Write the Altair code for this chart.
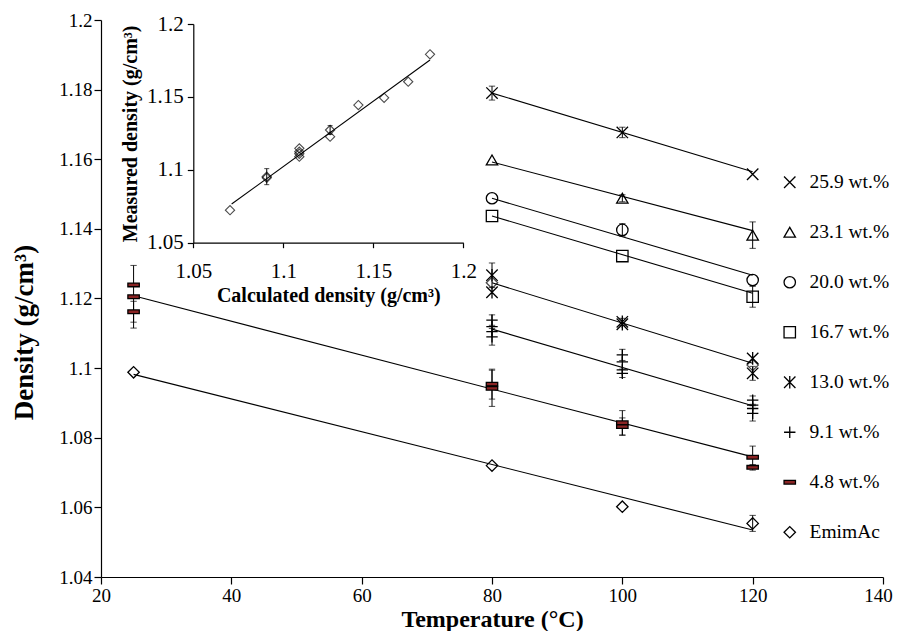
import altair as alt
import pandas as pd

FONT = "Liberation Serif"

# ---------------- main chart data ----------------
series_order = ["25.9 wt.%", "23.1 wt.%", "20.0 wt.%", "16.7 wt.%",
                "13.0 wt.%", "9.1 wt.%", "4.8 wt.%", "EmimAc"]
shape_range = [
    "M-1,-1L1,1M-1,1L1,-1",                 # x
    "triangle-up",
    "circle",
    "square",
    "M-1,-1L1,1M-1,1L1,-1M0,-1.1L0,1.1",    # star
    "M-1,0L1,0M0,-1L0,1",                   # plus
    "M-1,-0.32L1,-0.32L1,0.32L-1,0.32Z",    # dash
    "diamond",
]
fill_range = ["transparent"] * 6 + ["#8a2424", "transparent"]
stroke_range = ["black"] * 8

pt_series = (["25.9 wt.%"] * 3 + ["23.1 wt.%"] * 3 + ["20.0 wt.%"] * 3 +
             ["16.7 wt.%"] * 3 + ["13.0 wt.%"] * 6 + ["9.1 wt.%"] * 12 +
             ["4.8 wt.%"] * 9 + ["EmimAc"] * 4)
pt_temp = [80, 100, 120,
           80, 100, 120,
           80, 100, 120,
           80, 100, 120,
           80, 80, 100, 100, 120, 120,
           80, 80, 80, 80, 100, 100, 100, 100, 120, 120, 120, 120,
           25, 25, 25, 80, 80, 100, 100, 120, 120,
           25, 80, 100, 120]
pt_dens = [1.1790, 1.1677, 1.1557,
           1.1598, 1.1488, 1.1382,
           1.1488, 1.1397, 1.1253,
           1.1437, 1.1322, 1.1205,
           1.1267, 1.1218, 1.1133, 1.1126, 1.1028, 1.0985,
           1.1138, 1.1119, 1.1105, 1.1090, 1.1038, 1.1018, 1.0995, 1.0985,
           1.0908, 1.0894, 1.0884, 1.0870,
           1.1239, 1.1205, 1.1162, 1.0954, 1.0942, 1.0843, 1.0832, 1.0744, 1.0715,
           1.0988, 1.0720, 1.0602, 1.0554]
pt_err = [0.0020, 0.0015, 0.0,
          0.0, 0.0010, 0.0038,
          0.0, 0.0018, 0.0,
          0.0, 0.0, 0.0030,
          0.0035, 0.0, 0.0010, 0.0, 0.0, 0.0020,
          0.0015, 0.0, 0.0, 0.0024, 0.0016, 0.0, 0.0, 0.0012,
          0.0012, 0.0, 0.0, 0.0022,
          0.0, 0.0090, 0.0030, 0.0043, 0.0052, 0.0035, 0.0025, 0.0032, 0.0008,
          0.0, 0.0, 0.0, 0.0023]

# mean markers (diamonds) of the 13.0 wt.% replicates
mean_temp = [80, 120]
mean_dens = [1.1245, 1.1009]

# fitted lines
fit_series = series_order
fit_t0 = [80, 80, 80, 80, 80, 80, 25, 25]
fit_t1 = [120, 120, 120, 120, 120, 120, 120, 120]
fit_d0 = [1.1790, 1.1592, 1.1488, 1.1437, 1.1245, 1.1112, 1.1208, 1.0982]
fit_d1 = [1.1564, 1.1395, 1.1267, 1.1215, 1.1014, 1.0892, 1.0745, 1.0535]

# ---------------- inset data ----------------
in_calc = [1.0704, 1.0908, 1.0908, 1.1089, 1.1089, 1.1089, 1.1089,
           1.1260, 1.1260, 1.1417, 1.1560, 1.1694, 1.1815]
in_meas = [1.0723, 1.0953, 1.0945, 1.1147, 1.1124, 1.1090, 1.1110,
           1.1273, 1.1227, 1.1444, 1.1494, 1.1604, 1.1792]
in_err = [0.0, 0.0055, 0.0, 0.0, 0.0, 0.0, 0.0,
          0.0030, 0.0, 0.0, 0.0, 0.0, 0.0]
in_line_x = [1.0713, 1.1815]
in_line_y = [1.0765, 1.1753]

main_ticks_x = [20, 40, 60, 80, 100, 120, 140]
main_ticks_y = [1.04, 1.06, 1.08, 1.10, 1.12, 1.14, 1.16, 1.18, 1.20]
inset_ticks = [1.05, 1.10, 1.15, 1.20]

# ---------------- frames ----------------
points = pd.DataFrame({"series": pt_series, "temp": pt_temp,
                       "density": pt_dens, "err": pt_err})
means = pd.DataFrame({"temp": mean_temp, "density": mean_dens})
fits = pd.DataFrame({"series": fit_series, "t0": fit_t0, "t1": fit_t1,
                     "d0": fit_d0, "d1": fit_d1})
inset = pd.DataFrame({"calc": in_calc, "meas": in_meas, "err": in_err})
inset_line = pd.DataFrame({"x0": [in_line_x[0]], "x1": [in_line_x[1]],
                           "y0": [in_line_y[0]], "y1": [in_line_y[1]]})

W, H = 782, 557

xscale = alt.Scale(domain=[20, 140], nice=False, zero=False)
yscale = alt.Scale(domain=[1.04, 1.2], nice=False, zero=False)

xaxis = alt.Axis(values=main_ticks_x, title="Temperature (°C)", tickSize=7,
                 labelPadding=2, titlePadding=2, titleFontSize=24,
                 labelOffset={"condition": {"test": "datum.value == 140", "value": -5},
                              "value": 0})
yaxis = alt.Axis(values=main_ticks_y, format=".2~f", title="Density (g/cm³)",
                 tickSize=7, labelPadding=2, titleFontSize=27,
                 titleX=-63, titleY=312)

lines = alt.Chart(fits).mark_rule(color="black", strokeWidth=1.1).encode(
    x=alt.X("t0:Q", scale=xscale, axis=xaxis),
    x2="t1:Q",
    y=alt.Y("d0:Q", scale=yscale, axis=yaxis),
    y2="d1:Q",
)

err_base = alt.Chart(points).transform_filter("datum.err > 0").transform_calculate(
    lo="datum.density - datum.err", hi="datum.density + datum.err")

err_rules = err_base.mark_rule(color="black", strokeWidth=1).encode(
    x=alt.X("temp:Q", scale=xscale),
    y=alt.Y("lo:Q", scale=yscale),
    y2="hi:Q",
)
err_caps = err_base.transform_fold(["lo", "hi"], as_=["k", "v"]).mark_point(
    shape="M-1,0L1,0", size=40, stroke="black", strokeWidth=1, filled=False
).encode(
    x=alt.X("temp:Q", scale=xscale),
    y=alt.Y("v:Q", scale=yscale),
)

leg = alt.Legend(title=None, orient="none", legendX=679, legendY=152.5,
                 labelFont=FONT, labelFontSize=19.5, labelColor="black",
                 symbolStrokeColor="black", symbolStrokeWidth=1.3,
                 symbolSize=130, rowPadding=29, labelOffset=10, padding=0)

pts = alt.Chart(points).mark_point(filled=True, strokeWidth=1.3, size=130,
                                   opacity=1).encode(
    x=alt.X("temp:Q", scale=xscale),
    y=alt.Y("density:Q", scale=yscale),
    shape=alt.Shape("series:N", scale=alt.Scale(domain=series_order, range=shape_range),
                    legend=leg),
    fill=alt.Fill("series:N", scale=alt.Scale(domain=series_order, range=fill_range),
                  legend=leg),
    stroke=alt.Stroke("series:N", scale=alt.Scale(domain=series_order, range=stroke_range),
                      legend=leg),
)

mean_pts = alt.Chart(means).mark_point(shape="diamond", filled=False, stroke="black",
                                       strokeWidth=1.3, size=130).encode(
    x=alt.X("temp:Q", scale=xscale),
    y=alt.Y("density:Q", scale=yscale),
)

main = alt.layer(lines, err_rules, err_caps, pts, mean_pts)

# ---------------- inset ----------------
ix_scale = alt.Scale(domain=[1.05, 1.2], range=[92.3, 362.3], nice=False, zero=False)
iy_scale = alt.Scale(domain=[1.05, 1.2], range=[222.7, 4], nice=False, zero=False)

ix_axis = alt.Axis(orient="bottom", offset=-334.3, values=inset_ticks, format=".2~f",
                   title="Calculated density (g/cm³)", tickSize=5, labelPadding=13,
                   titlePadding=4, titleFontSize=20, labelFontSize=21)
iy_axis = alt.Axis(orient="left", offset=-92.3, values=inset_ticks, format=".2~f",
                   title="Measured density (g/cm³)", tickSize=6, labelPadding=4,
                   titlePadding=6, titleFontSize=20, labelFontSize=21)

in_line = alt.Chart(inset_line).mark_rule(color="black", strokeWidth=1.1).encode(
    x=alt.X("x0:Q", scale=ix_scale, axis=ix_axis),
    x2="x1:Q",
    y=alt.Y("y0:Q", scale=iy_scale, axis=iy_axis),
    y2="y1:Q",
)
in_err_base = alt.Chart(inset).transform_filter("datum.err > 0").transform_calculate(
    lo="datum.meas - datum.err", hi="datum.meas + datum.err")
in_err = in_err_base.mark_rule(color="black", strokeWidth=1).encode(
    x=alt.X("calc:Q", scale=ix_scale),
    y=alt.Y("lo:Q", scale=iy_scale),
    y2="hi:Q",
)
in_caps = in_err_base.transform_fold(["lo", "hi"], as_=["k", "v"]).mark_point(
    shape="M-1,0L1,0", size=25, stroke="black", strokeWidth=1, filled=False
).encode(
    x=alt.X("calc:Q", scale=ix_scale),
    y=alt.Y("v:Q", scale=iy_scale),
)
in_pts = alt.Chart(inset).mark_point(shape="diamond", filled=False, stroke="black",
                                     strokeWidth=1.1, size=85).encode(
    x=alt.X("calc:Q", scale=ix_scale),
    y=alt.Y("meas:Q", scale=iy_scale),
)
inset_chart = alt.layer(in_line, in_err, in_caps, in_pts)

chart = alt.layer(main, inset_chart).resolve_scale(
    x="independent", y="independent"
).properties(
    width=W, height=H,
    autosize=alt.AutoSizeParams(type="none"),
    padding={"left": 93, "top": 12, "right": 10, "bottom": 54},
    background="white",
).configure_view(stroke=None).configure_axis(
    grid=False, labelFont=FONT, labelFontSize=19, labelColor="black",
    titleFont=FONT, titleFontWeight="bold", titleColor="black",
    domainColor="black", tickColor="black", domainWidth=1.2, tickWidth=1.2,
    labelFlush=False, labelOverlap=False,
)

chart.save("out.html", embed_options={"renderer": "svg", "actions": False})
